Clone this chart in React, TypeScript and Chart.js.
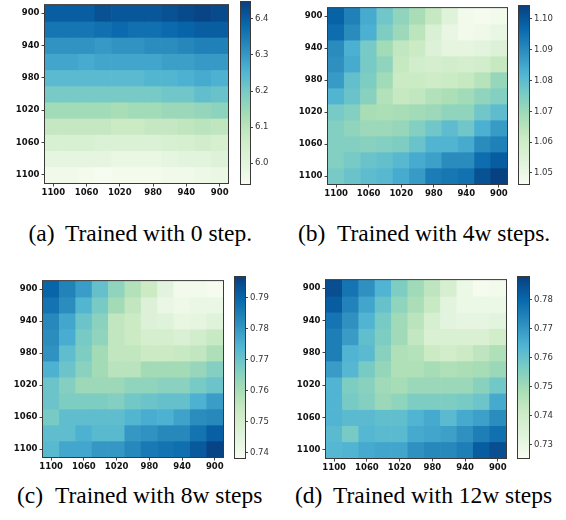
import React, { useEffect, useRef } from 'react';
import { Chart, registerables } from 'chart.js';
Chart.register(...registerables);

// ---------- data ----------
const xLabels = ['1100', '1080', '1060', '1040', '1020', '1000', '980', '960', '940', '920', '900'];
const yValues = [900, 920, 940, 960, 980, 1000, 1020, 1040, 1060, 1080, 1100];
const yTickValues = [900, 940, 980, 1020, 1060, 1100];

// rows top (900) -> bottom (1100), columns 1100 -> 900
const gridA = [
  [6.40, 6.40, 6.40, 6.42, 6.41, 6.41, 6.41, 6.42, 6.43, 6.44, 6.43],
  [6.36, 6.36, 6.36, 6.37, 6.38, 6.37, 6.37, 6.38, 6.39, 6.40, 6.40],
  [6.31, 6.31, 6.31, 6.30, 6.31, 6.31, 6.32, 6.32, 6.33, 6.34, 6.34],
  [6.28, 6.28, 6.27, 6.28, 6.28, 6.28, 6.28, 6.29, 6.29, 6.30, 6.30],
  [6.24, 6.24, 6.24, 6.24, 6.24, 6.24, 6.25, 6.25, 6.26, 6.27, 6.26],
  [6.20, 6.20, 6.20, 6.20, 6.20, 6.20, 6.20, 6.21, 6.21, 6.23, 6.22],
  [6.14, 6.14, 6.14, 6.14, 6.13, 6.14, 6.14, 6.15, 6.15, 6.16, 6.17],
  [6.08, 6.08, 6.08, 6.08, 6.07, 6.07, 6.08, 6.08, 6.09, 6.10, 6.09],
  [6.03, 6.03, 6.03, 6.02, 6.02, 6.02, 6.02, 6.03, 6.04, 6.05, 6.04],
  [5.99, 5.99, 5.99, 5.99, 5.98, 5.98, 5.98, 5.99, 6.00, 6.00, 6.01],
  [5.96, 5.96, 5.95, 5.94, 5.95, 5.95, 5.95, 5.96, 5.96, 5.97, 5.98],
];
const gridB = [
  [1.098, 1.092, 1.084, 1.077, 1.072, 1.068, 1.062, 1.054, 1.048, 1.047, 1.048],
  [1.096, 1.090, 1.083, 1.075, 1.070, 1.064, 1.056, 1.051, 1.048, 1.049, 1.051],
  [1.090, 1.083, 1.076, 1.069, 1.063, 1.061, 1.055, 1.052, 1.052, 1.053, 1.055],
  [1.089, 1.084, 1.076, 1.072, 1.062, 1.059, 1.058, 1.059, 1.058, 1.059, 1.062],
  [1.087, 1.079, 1.075, 1.069, 1.061, 1.061, 1.060, 1.061, 1.062, 1.065, 1.071],
  [1.082, 1.078, 1.073, 1.066, 1.062, 1.063, 1.066, 1.067, 1.069, 1.072, 1.074],
  [1.076, 1.074, 1.068, 1.067, 1.068, 1.069, 1.070, 1.072, 1.072, 1.077, 1.080],
  [1.074, 1.072, 1.070, 1.070, 1.071, 1.074, 1.077, 1.080, 1.077, 1.083, 1.087],
  [1.074, 1.074, 1.073, 1.074, 1.075, 1.078, 1.082, 1.082, 1.084, 1.090, 1.092],
  [1.074, 1.076, 1.078, 1.079, 1.081, 1.084, 1.086, 1.090, 1.090, 1.096, 1.099],
  [1.076, 1.078, 1.080, 1.081, 1.084, 1.087, 1.093, 1.094, 1.095, 1.101, 1.104],
];
const gridC = [
  [0.790, 0.784, 0.779, 0.771, 0.764, 0.758, 0.753, 0.745, 0.740, 0.740, 0.739],
  [0.787, 0.782, 0.774, 0.768, 0.761, 0.755, 0.747, 0.742, 0.741, 0.742, 0.742],
  [0.783, 0.777, 0.770, 0.765, 0.755, 0.753, 0.747, 0.746, 0.743, 0.744, 0.746],
  [0.782, 0.776, 0.768, 0.764, 0.755, 0.753, 0.750, 0.750, 0.748, 0.751, 0.754],
  [0.781, 0.772, 0.767, 0.761, 0.755, 0.755, 0.753, 0.753, 0.754, 0.755, 0.759],
  [0.775, 0.770, 0.765, 0.761, 0.757, 0.757, 0.761, 0.761, 0.761, 0.763, 0.766],
  [0.770, 0.766, 0.762, 0.762, 0.762, 0.764, 0.764, 0.765, 0.765, 0.768, 0.770],
  [0.770, 0.767, 0.767, 0.767, 0.766, 0.769, 0.770, 0.771, 0.771, 0.775, 0.779],
  [0.768, 0.772, 0.772, 0.772, 0.772, 0.774, 0.776, 0.775, 0.778, 0.782, 0.783],
  [0.772, 0.772, 0.775, 0.773, 0.773, 0.780, 0.781, 0.783, 0.783, 0.787, 0.791],
  [0.773, 0.777, 0.777, 0.780, 0.780, 0.783, 0.786, 0.787, 0.788, 0.792, 0.796],
];
const gridD = [
  [0.785, 0.777, 0.771, 0.764, 0.756, 0.750, 0.744, 0.737, 0.729, 0.726, 0.727],
  [0.782, 0.774, 0.767, 0.760, 0.753, 0.748, 0.742, 0.732, 0.729, 0.729, 0.729],
  [0.777, 0.771, 0.764, 0.757, 0.750, 0.745, 0.737, 0.732, 0.731, 0.731, 0.732],
  [0.775, 0.769, 0.761, 0.756, 0.750, 0.743, 0.736, 0.736, 0.736, 0.736, 0.739],
  [0.775, 0.764, 0.762, 0.754, 0.747, 0.746, 0.741, 0.739, 0.741, 0.744, 0.747],
  [0.769, 0.763, 0.757, 0.752, 0.747, 0.747, 0.749, 0.747, 0.748, 0.749, 0.751],
  [0.764, 0.756, 0.754, 0.750, 0.749, 0.751, 0.751, 0.751, 0.751, 0.754, 0.758],
  [0.764, 0.757, 0.755, 0.751, 0.753, 0.756, 0.756, 0.756, 0.757, 0.759, 0.766],
  [0.764, 0.762, 0.762, 0.761, 0.761, 0.764, 0.766, 0.762, 0.766, 0.768, 0.772],
  [0.762, 0.757, 0.763, 0.762, 0.762, 0.766, 0.767, 0.768, 0.771, 0.775, 0.778],
  [0.763, 0.764, 0.766, 0.767, 0.767, 0.771, 0.773, 0.773, 0.775, 0.782, 0.785],
];

const rangeA = [5.942, 6.447];
const rangeB = [1.0464, 1.1042];
const rangeC = [0.7383, 0.7967];
const rangeD = [0.7253, 0.7877];

const cbarTicksA = [6.0, 6.1, 6.2, 6.3, 6.4];
const cbarTicksB = [1.05, 1.06, 1.07, 1.08, 1.09, 1.10];
const cbarTicksC = [0.74, 0.75, 0.76, 0.77, 0.78, 0.79];
const cbarTicksD = [0.73, 0.74, 0.75, 0.76, 0.77, 0.78];

const captionLabels = ['(a)', '(b)', '(c)', '(d)'];
const captionTexts = [
  'Trained with 0 step.',
  'Trained with 4w steps.',
  'Trained with 8w steps',
  'Trained with 12w steps',
];

// ---------- style ----------
const GNBU = ['#f7fcf0', '#e0f3db', '#ccebc5', '#a8ddb5', '#7bccc4', '#4eb3d3', '#2b8cbe', '#0868ac', '#084081'];

function hexToRgb(h: string) {
  return [parseInt(h.slice(1, 3), 16), parseInt(h.slice(3, 5), 16), parseInt(h.slice(5, 7), 16)];
}
function gnbu(t: number) {
  const tt = Math.max(0, Math.min(1, t));
  const n = GNBU.length - 1;
  const p = tt * n;
  const i = Math.min(n - 1, Math.floor(p));
  const f = p - i;
  const a = hexToRgb(GNBU[i]);
  const b = hexToRgb(GNBU[i + 1]);
  const c = a.map((v, k) => Math.round(v + (b[k] - v) * f));
  return `rgb(${c[0]},${c[1]},${c[2]})`;
}

const SPINE = '#3a3a3a';
const TICK = '#444';

const framePlugin = {
  id: 'frame',
  afterDraw(chart: any) {
    const { ctx, chartArea: a } = chart;
    ctx.save();
    ctx.strokeStyle = SPINE;
    ctx.lineWidth = 1;
    ctx.strokeRect(a.left - 0.5, a.top - 0.5, a.right - a.left + 1, a.bottom - a.top + 1);
    ctx.restore();
  },
};

type Geom = { hl: number; hr: number; ht: number; hb: number; cl: number; cr: number; ct: number; cb: number };

const geoms: Geom[] = [
  { hl: 45, hr: 228, ht: 2, hb: 183, cl: 241, cr: 250, ct: 2, cb: 184 },
  { hl: 328, hr: 507, ht: 5, hb: 184, cl: 519, cr: 529, ct: 6, cb: 184 },
  { hl: 43, hr: 223, ht: 278, hb: 457, cl: 235, cr: 245, ct: 277, cb: 458 },
  { hl: 326, hr: 506, ht: 277, hb: 458, cl: 518, cr: 529, ct: 277, cb: 458 },
];

const captionPos = [
  { lx: 28.5, tx: 65, base: 242 },
  { lx: 298, tx: 337, base: 242 },
  { lx: 17, tx: 55, base: 504 },
  { lx: 295, tx: 333, base: 504 },
];

const CAP_SIZE = 23.5;

function Panel({ grid, range, cbTicks, digits, g }: any) {
  const heatRef = useRef<HTMLCanvasElement>(null);
  const cbRef = useRef<HTMLCanvasElement>(null);

  const hx0 = g.hl - 44, hy0 = g.ht - 4, hx1 = g.hr + 6, hy1 = g.hb + 18;
  const cx0 = g.cl - 2, cy0 = g.ct - 8, cx1 = g.cr + 32, cy1 = g.cb + 8;

  useEffect(() => {
    const half = (yValues[1] - yValues[0]) / 2;
    const tickFont = { family: 'DejaVu Sans', size: 8.5, weight: 'bold' as const };
    const heat = new Chart(heatRef.current!, {
      type: 'bar',
      data: {
        labels: xLabels,
        datasets: yValues.map((y, r) => ({
          data: xLabels.map(() => [y - half, y + half]),
          backgroundColor: grid[r].map((v: number) => gnbu((v - range[0]) / (range[1] - range[0]))),
          borderWidth: 0,
          barPercentage: 1,
          categoryPercentage: 1,
          grouped: false,
        })),
      } as any,
      options: {
        responsive: false,
        animation: false,
        events: [],
        layout: { padding: { left: 0, top: g.ht - hy0, right: hx1 - g.hr, bottom: 0 } },
        plugins: { legend: { display: false }, tooltip: { enabled: false } },
        scales: {
          x: {
            type: 'category',
            offset: true,
            afterFit: (s: any) => { s.height = hy1 - g.hb; },
            grid: {
              offset: false,
              drawOnChartArea: false,
              drawTicks: true,
              tickLength: 3.5,
              tickColor: (c: any) => (c.index % 2 === 0 ? TICK : 'rgba(0,0,0,0)'),
            },
            border: { display: false },
            ticks: {
              autoSkip: false,
              maxRotation: 0,
              padding: 1,
              color: '#111',
              font: tickFont,
              callback: function (this: any, val: any, idx: number) {
                return idx % 2 === 0 ? this.getLabelForValue(val) : '';
              },
            },
          },
          y: {
            type: 'linear',
            reverse: true,
            min: yValues[0] - half,
            max: yValues[yValues.length - 1] + half,
            afterFit: (s: any) => { s.width = g.hl - hx0; },
            afterBuildTicks: (s: any) => { s.ticks = yTickValues.map((v) => ({ value: v })); },
            grid: { drawOnChartArea: false, drawTicks: true, tickLength: 3.5, tickColor: TICK },
            border: { display: false },
            ticks: { padding: 2, color: '#111', font: tickFont, callback: (v: any) => String(v) },
          },
        },
      } as any,
      plugins: [framePlugin],
    });

    const cbar = new Chart(cbRef.current!, {
      type: 'bar',
      data: {
        labels: [''],
        datasets: [
          {
            data: [[range[0], range[1]]],
            backgroundColor: (ctx: any) => {
              const a = ctx.chart.chartArea;
              if (!a) return GNBU[4];
              const grad = ctx.chart.ctx.createLinearGradient(0, a.bottom, 0, a.top);
              GNBU.forEach((c, i) => grad.addColorStop(i / (GNBU.length - 1), c));
              return grad;
            },
            borderWidth: 0,
            barPercentage: 1,
            categoryPercentage: 1,
          },
        ],
      } as any,
      options: {
        responsive: false,
        animation: false,
        events: [],
        layout: { padding: { left: g.cl - cx0, top: g.ct - cy0, right: 0, bottom: cy1 - g.cb } },
        plugins: { legend: { display: false }, tooltip: { enabled: false } },
        scales: {
          x: { display: false },
          y: {
            type: 'linear',
            position: 'right',
            min: range[0],
            max: range[1],
            afterFit: (s: any) => { s.width = cx1 - g.cr; },
            afterBuildTicks: (s: any) => { s.ticks = cbTicks.map((v: number) => ({ value: v })); },
            grid: { drawOnChartArea: false, drawTicks: true, tickLength: 3, tickColor: TICK },
            border: { display: false },
            ticks: {
              padding: 2,
              color: '#333',
              font: { family: 'DejaVu Sans', size: 8.5 },
              callback: (v: any) => Number(v).toFixed(digits),
            },
          },
        },
      } as any,
      plugins: [framePlugin],
    });

    return () => {
      heat.destroy();
      cbar.destroy();
    };
  }, []);

  return (
    <>
      <canvas
        ref={heatRef}
        width={hx1 - hx0}
        height={hy1 - hy0}
        style={{ position: 'absolute', left: hx0, top: hy0, width: hx1 - hx0, height: hy1 - hy0 }}
      />
      <canvas
        ref={cbRef}
        width={cx1 - cx0}
        height={cy1 - cy0}
        style={{ position: 'absolute', left: cx0, top: cy0, width: cx1 - cx0, height: cy1 - cy0 }}
      />
    </>
  );
}

export default function App() {
  const panels = [
    { grid: gridA, range: rangeA, cbTicks: cbarTicksA, digits: 1 },
    { grid: gridB, range: rangeB, cbTicks: cbarTicksB, digits: 2 },
    { grid: gridC, range: rangeC, cbTicks: cbarTicksC, digits: 2 },
    { grid: gridD, range: rangeD, cbTicks: cbarTicksD, digits: 2 },
  ];
  const capStyle: React.CSSProperties = {
    position: 'absolute',
    fontFamily: '"Liberation Serif", "Times New Roman", serif',
    fontSize: CAP_SIZE,
    lineHeight: 1,
    whiteSpace: 'pre',
    color: '#000',
  };
  return (
    <div style={{ position: 'absolute', left: 0, top: 0, width: 566, height: 520, background: '#fff', overflow: 'hidden' }}>
      {panels.map((p, i) => (
        <Panel key={i} {...p} g={geoms[i]} />
      ))}
      {captionPos.map((c, i) => (
        <React.Fragment key={'c' + i}>
          <div style={{ ...capStyle, left: c.lx, top: c.base - 0.8375 * CAP_SIZE }}>{captionLabels[i]}</div>
          <div style={{ ...capStyle, left: c.tx, top: c.base - 0.8375 * CAP_SIZE }}>{captionTexts[i]}</div>
        </React.Fragment>
      ))}
    </div>
  );
}
